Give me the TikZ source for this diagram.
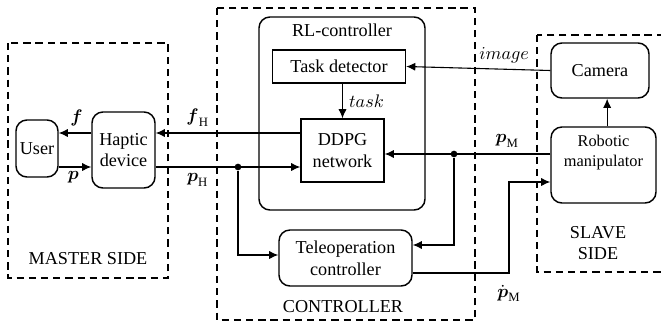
\documentclass[tikz,border=0pt]{standalone}
\usepackage{amsmath}
\usepackage{fontspec}
\setmainfont{Liberation Serif}
\usepackage{tikz}
\usetikzlibrary{arrows,arrows.meta,positioning,calc}

\begin{document}
\begin{tikzpicture}[x=0.55pt, y=-0.55pt, semithick, >={Latex[length=5pt,width=4.5pt]},
  blk/.style={draw, thick, align=center, inner sep=0pt},
  rblk/.style={blk, rounded corners=6pt},
  side/.style={draw, dash pattern=on 4pt off 2.7pt},
  sz/.style 2 args={minimum width=#1*0.55pt, minimum height=#2*0.55pt},
  jdot/.style={circle, fill, inner sep=1.3pt}]
\useasboundingbox (0,0) rectangle (661,327);
% the three sides
\draw[side] (8,43) rectangle (168,278); \node (master) at (88,259) {MASTER SIDE};
\draw[side] (217,8) rectangle (475,320); \node (ctrl) at (343,307) {CONTROLLER};
\draw[side] (537,35) rectangle (668,272); \node[align=center] (slave) at (598,243) {SLAVE\\SIDE};
% blocks
\node[rblk, sz={42}{57}] (user) at (37,148.5) {User};
\node[rblk, sz={63}{76}] (haptic) at (123.5,150) {Haptic\\device};
\node[rblk, sz={166}{193}] (rl) at (342,113.5) {}; \node (rllab) at (342,30) {RL-controller};
\node[blk, sz={133}{33}] (task) at (339,66.5) {Task detector};
\node[blk, sz={83}{63}] (ddpg) at (342.5,150.5) {DDPG\\network};
\node[rblk, sz={133}{56}] (teleop) at (345.5,258) {Teleoperation\\controller};
\node[rblk, sz={98}{55}] (camera) at (600,70.5) {Camera};
\node[rblk, sz={105}{76}] (robot) at (603.5,165) {}; \node[align=center, font=\small] (robotlab) at (603.5,153) {Robotic\\manipulator};
% signal heights
\coordinate (yf) at (0,133); \coordinate (yp) at (0,167); \coordinate (ypm) at (0,154); \coordinate (ydm) at (0,182);
\coordinate (ytl) at (0,255); \coordinate (ytr) at (0,245); \coordinate (yto) at (0,273);
\node[jdot] (jh) at (238,167) {}; \node[jdot] (jm) at (454,154) {};
\coordinate (turn) at (509,273);
% signals
\draw[->] (haptic.west |- yf) -- node[above, pos=0.45] {$\boldsymbol{f}$} (user.east |- yf);
\draw[->] (user.east |- yp) -- node[below=-1pt, pos=0.45] {$\boldsymbol{p}$} (haptic.west |- yp);
\draw[->] (ddpg.west |- yf) -- node[above, pos=0.71] {$\boldsymbol{f}_\mathrm{H}$} (haptic.east |- yf);
\draw[->] (haptic.east |- yp) -- node[below, pos=0.29] {$\boldsymbol{p}_\mathrm{H}$} (ddpg.west |- yp);
\draw[->] (jh) |- (teleop.west |- ytl);
\draw[->] (camera.west) -- node[above, pos=0.32] {$image$} (task.east);
\draw[->] (task.south -| ddpg.north) -- node[right] {$task$} (ddpg.north);
\draw[->] (robot.west |- ypm) -- node[above, pos=0.26] {$\boldsymbol{p}_\mathrm{M}$} (ddpg.east |- ypm);
\draw[->] (jm) |- (teleop.east |- ytr);
\draw[->] (teleop.east |- yto) -- (turn) node[below=3pt] {$\dot{\boldsymbol{p}}_\mathrm{M}$} |- (robot.west |- ydm);
\draw[->] ([xshift=2pt]robot.north) -- ([xshift=2pt]robot.north |- camera.south);
\end{tikzpicture}
\end{document}
